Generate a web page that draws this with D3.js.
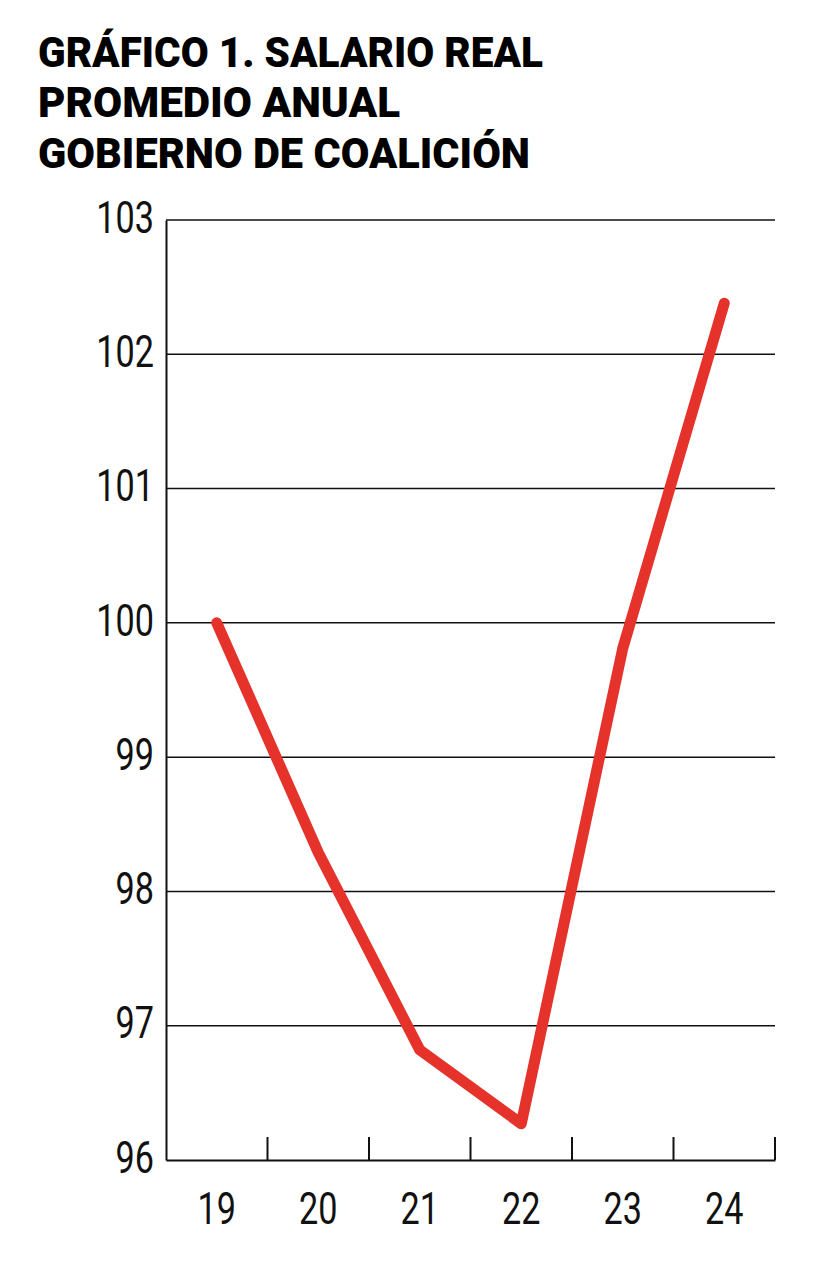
<!DOCTYPE html>
<html><head><meta charset="utf-8">
<script src="https://cdn.jsdelivr.net/npm/d3@7"></script>
<style>
html,body{margin:0;padding:0;background:#fff;}
svg{display:block;}
</style></head>
<body>
<svg id="chart" width="833" height="1277"></svg>
<script>
const titleLines = ["GRÁFICO 1. SALARIO REAL", "PROMEDIO ANUAL", "GOBIERNO DE COALICIÓN"];
const years = ["19", "20", "21", "22", "23", "24"];
const salario = [100.0, 98.29, 96.82, 96.27, 99.81, 102.38];
const yTicks = [96, 97, 98, 99, 100, 101, 102, 103];

(function () {
const svg = d3.select("#chart");
const FONT = "'Roboto', 'Liberation Sans', sans-serif";
const mLeft = 166, mRight = 775, mTop = 220, mBottom = 1160;
const SX = 0.76; // horizontal condensation of number labels

const x = d3.scaleBand().domain(years).range([mLeft, mRight]);
const y = d3.scaleLinear().domain([96, 103]).range([mBottom, mTop]);

// Title
const titleWidths = [505, 362, 492];
const titleBase = [67, 117, 168];
svg.append("g").selectAll("text").data(titleLines).join("text")
  .attr("x", 38).attr("y", (d, i) => titleBase[i])
  .attr("font-family", FONT).attr("font-weight", 900).attr("font-size", 43)
  .attr("textLength", (d, i) => titleWidths[i]).attr("lengthAdjust", "spacingAndGlyphs")
  .attr("fill", "#000").text(d => d);

// Gridlines
svg.append("g").selectAll("line").data(yTicks.filter(t => t > 96)).join("line")
  .attr("x1", mLeft).attr("x2", mRight)
  .attr("y1", d => y(d)).attr("y2", d => y(d))
  .attr("stroke", "#111").attr("stroke-width", 1.5);

// Y axis
const yAxis = svg.append("g").attr("transform", `translate(${mLeft},0)`)
  .call(d3.axisLeft(y).tickValues(yTicks).tickSize(0).tickPadding(12).tickFormat(d3.format("d")));
yAxis.select(".domain").attr("stroke", "#111").attr("stroke-width", 2);
yAxis.selectAll("text").attr("font-family", FONT).attr("font-weight", 400).attr("font-size", 45)
  .attr("fill", "#111").attr("x", -12 / SX).attr("transform", `scale(${SX},1)`)
  .attr("dy", "0.27em");

// X axis
const xAxis = svg.append("g").attr("transform", `translate(0,${mBottom})`)
  .call(d3.axisBottom(x).tickSize(0).tickPadding(32));
xAxis.select(".domain").attr("stroke", "#111").attr("stroke-width", 2);
xAxis.selectAll("text").attr("font-family", FONT).attr("font-weight", 400).attr("font-size", 45)
  .attr("fill", "#111").attr("transform", `scale(${SX},1)`);

// Band separator ticks (inward)
const bounds = years.slice(1).map(d => x(d)).concat([mRight]);
svg.append("g").selectAll("line").data(bounds).join("line")
  .attr("x1", d => d).attr("x2", d => d)
  .attr("y1", mBottom).attr("y2", mBottom - 23)
  .attr("stroke", "#111").attr("stroke-width", 2);

// Line
const line = d3.line()
  .x((d, i) => x(years[i]) + x.bandwidth() / 2)
  .y(d => y(d));
svg.append("path").datum(salario)
  .attr("d", line)
  .attr("fill", "none").attr("stroke", "#e5322b").attr("stroke-width", 11)
  .attr("stroke-linecap", "round").attr("stroke-linejoin", "round");
})();
</script>
</body></html>
